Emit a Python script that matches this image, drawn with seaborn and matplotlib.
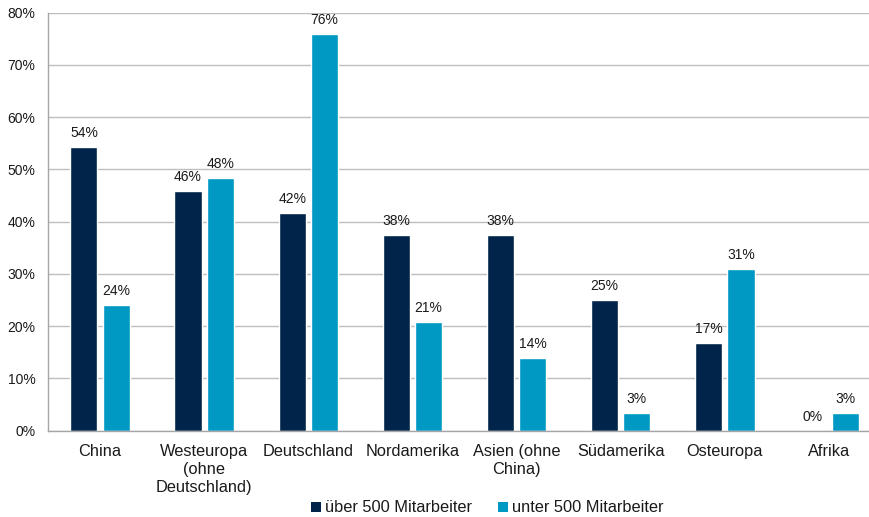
import matplotlib
matplotlib.use("Agg")
import matplotlib.pyplot as plt
from matplotlib.patches import Patch
import seaborn as sns
import pandas as pd

regions = ["China", "Westeuropa\n(ohne\nDeutschland)", "Deutschland", "Nordamerika",
           "Asien (ohne\nChina)", "Südamerika", "Osteuropa", "Afrika"]
series = ["über 500 Mitarbeiter", "unter 500 Mitarbeiter"]
ueber_500 = [54.2, 45.8, 41.7, 37.5, 37.5, 25.0, 16.7, 0.0]
unter_500 = [24.1, 48.3, 75.9, 20.7, 13.8, 3.4, 31.0, 3.4]
y_ticks = [0, 10, 20, 30, 40, 50, 60, 70, 80]
colors = ["#00244A", "#0099C4"]

df = pd.DataFrame({
    "Region": regions * 2,
    "Gruppe": [series[0]] * len(regions) + [series[1]] * len(regions),
    "Anteil": ueber_500 + unter_500,
})

sns.set_theme(style="white")
plt.rcParams["font.family"] = ["Liberation Sans", "DejaVu Sans"]

fig = plt.figure(figsize=(8.69, 5.17), dpi=100)
ax = fig.add_axes([48 / 869, 1 - 430.5 / 517, (881 - 48) / 869, (430.5 - 12.7) / 517])

sns.barplot(data=df, x="Region", y="Anteil", hue="Gruppe", order=regions,
            hue_order=series, palette=colors, width=0.62, gap=0.16,
            saturation=1, legend=False, ax=ax, errorbar=None)

for container, vals in zip(ax.containers, [ueber_500, unter_500]):
    ax.bar_label(container, labels=[f"{v:.0f}%" for v in vals], padding=5,
                 fontsize=10, color="#1a1a1a")

ax.set_xlim(-0.5, len(regions) - 0.5)
ax.set_ylim(0, 80)
ax.set_yticks(y_ticks)
ax.set_yticklabels([f"{t}%" for t in y_ticks])
ax.set_xlabel("")
ax.set_ylabel("")
ax.yaxis.grid(True, color="#BEBEBE", linewidth=1)
ax.set_axisbelow(True)
for side in ["top", "right"]:
    ax.spines[side].set_visible(False)
for side in ["left", "bottom"]:
    ax.spines[side].set_color("#A6A6A6")
    ax.spines[side].set_linewidth(1)
ax.tick_params(axis="y", length=0, pad=9, labelsize=10, labelcolor="#1a1a1a")
ax.tick_params(axis="x", length=0, pad=10, labelsize=11.8, labelcolor="#1a1a1a")
for lbl in ax.get_xticklabels():
    lbl.set_linespacing(1.25)
    lbl.set_verticalalignment("top")

handles = [Patch(facecolor=c, edgecolor="none", label=s) for c, s in zip(colors, series)]
fig.legend(handles=handles, loc="center", bbox_to_anchor=(487 / 869, 1 - 508 / 517),
           ncol=2, frameon=False, fontsize=11.8, handlelength=0.6, handleheight=0.6,
           handletextpad=0.25, columnspacing=1.6, labelcolor="#1a1a1a")

fig.savefig("out.png", dpi=100)
